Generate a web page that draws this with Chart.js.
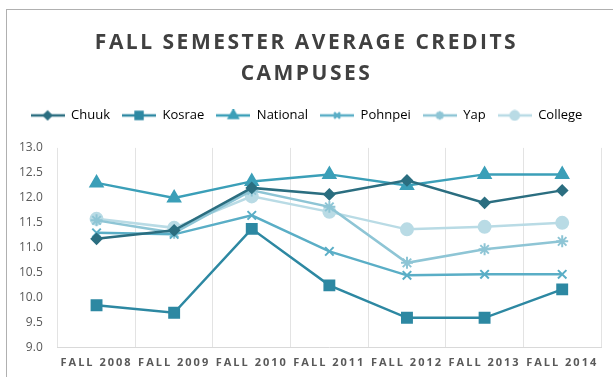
<!DOCTYPE html>
<html>
<head>
<meta charset="utf-8">
<script src="https://cdn.jsdelivr.net/npm/chart.js@4"></script>
<style>
  body { margin: 0; background: #fff; }
  #frame { position: absolute; left: 6px; top: 9px; width: 640px; height: 400px; border: 1px solid #b0b0b0; }
  #wrap { position: absolute; left: 0; top: 0; width: 613px; height: 377px; }
</style>
</head>
<body>
<div id="frame"></div>
<div id="wrap"><canvas id="creditsChart" width="613" height="377"></canvas></div>
<script>
const years = ['FALL 2008', 'FALL 2009', 'FALL 2010', 'FALL 2011', 'FALL 2012', 'FALL 2013', 'FALL 2014'];
const chuuk = [11.18, 11.35, 12.2, 12.07, 12.35, 11.9, 12.15];
const kosrae = [9.85, 9.7, 11.38, 10.25, 9.6, 9.6, 10.17];
const national = [12.3, 12.0, 12.33, 12.47, 12.25, 12.47, 12.47];
const pohnpei = [11.3, 11.27, 11.65, 10.93, 10.45, 10.47, 10.47];
const yap = [11.55, 11.3, 12.15, 11.82, 10.7, 10.97, 11.13];
const college = [11.58, 11.4, 12.03, 11.72, 11.37, 11.42, 11.5];

const series = [
  { label: 'Chuuk', data: chuuk, color: '#2b6e80', marker: 'rectRot', r: 5 },
  { label: 'Kosrae', data: kosrae, color: '#2d88a2', marker: 'rect', r: 7 },
  { label: 'National', data: national, color: '#3b9fb8', marker: 'triangle', r: 7 },
  { label: 'Pohnpei', data: pohnpei, color: '#5aaec6', marker: 'crossRot', r: 6 },
  { label: 'Yap', data: yap, color: '#8ec5d5', marker: 'star', r: 6 },
  { label: 'College', data: college, color: '#b9dbe5', marker: 'circle', r: 6 }
];

// small line+marker swatch for the legend
function swatch(s) {
  const c = document.createElement('canvas');
  c.width = 34; c.height = 12;
  const g = c.getContext('2d');
  g.strokeStyle = s.color; g.lineWidth = 2.5;
  g.beginPath(); g.moveTo(0, 6); g.lineTo(34, 6); g.stroke();
  g.fillStyle = s.color;
  Chart.helpers.drawPoint(g, { pointStyle: s.marker, radius: s.r * 0.7, borderWidth: 2 }, 17, 6);
  g.fill();
  return c;
}

function spaced(obj, fn, px) {
  const orig = obj[fn];
  obj[fn] = function (...args) {
    this.ctx.save(); this.ctx.letterSpacing = px;
    orig.apply(this, args);
    this.ctx.restore();
  };
}

const tweaks = {
  id: 'tweaks',
  beforeInit(chart) {
    const lg = chart.legend;
    const fit = lg.fit;
    lg.fit = function () { fit.call(this); this.height += 16; };
    spaced(chart.titleBlock, 'draw', '2.5px');
  },
  afterLayout(chart) {
    const x = chart.scales.x;
    if (!x._patched) { spaced(x, 'drawLabels', '2px'); x._patched = true; }
  }
};

const ctx = document.getElementById('creditsChart').getContext('2d');
const creditsChart = new Chart(ctx, {
  type: 'line',
  data: {
    labels: years,
    datasets: series.map(s => ({
      label: s.label,
      data: s.data,
      borderColor: s.color,
      backgroundColor: s.color,
      borderWidth: 2.5,
      pointStyle: s.marker,
      pointRadius: s.r,
      pointBorderWidth: 2,
      pointHoverRadius: s.r,
      tension: 0
    }))
  },
  options: {
    responsive: false,
    animation: false,
    layout: { padding: { top: 18, left: 12, right: 12, bottom: 0 } },
    plugins: {
      title: {
        display: true,
        text: ['FALL SEMESTER AVERAGE CREDITS', 'CAMPUSES'],
        color: '#404040',
        font: { family: 'Open Sans', size: 21, weight: 'bold', lineHeight: 1.45 },
        padding: { top: 10, bottom: 8 }
      },
      legend: {
        position: 'top',
        labels: {
          color: '#595959',
          font: { family: 'Open Sans', size: 13 },
          usePointStyle: true,
          pointStyleWidth: 34,
          padding: 12,
          generateLabels(chart) {
            return series.map((s, i) => ({
              text: s.label,
              pointStyle: swatch(s),
              fillStyle: s.color,
              strokeStyle: s.color,
              lineWidth: 0,
              hidden: false,
              datasetIndex: i
            }));
          }
        }
      },
      tooltip: { enabled: false }
    },
    scales: {
      x: {
        offset: true,
        grid: { display: true, offset: true, color: '#e3e3e3', drawTicks: false },
        border: { display: true, color: '#d9d9d9' },
        ticks: {
          color: '#595959',
          font: { family: 'Open Sans', size: 11, weight: 'bold' },
          maxRotation: 0,
          autoSkip: false,
          padding: 8
        }
      },
      y: {
        min: 9,
        max: 13,
        grid: { display: false },
        border: { display: false },
        ticks: {
          stepSize: 0.5,
          color: '#595959',
          font: { family: 'Open Sans', size: 12 },
          padding: 7,
          callback: v => v.toFixed(1)
        }
      }
    }
  },
  plugins: [tweaks]
});
creditsChart.draw();
</script>
</body>
</html>
